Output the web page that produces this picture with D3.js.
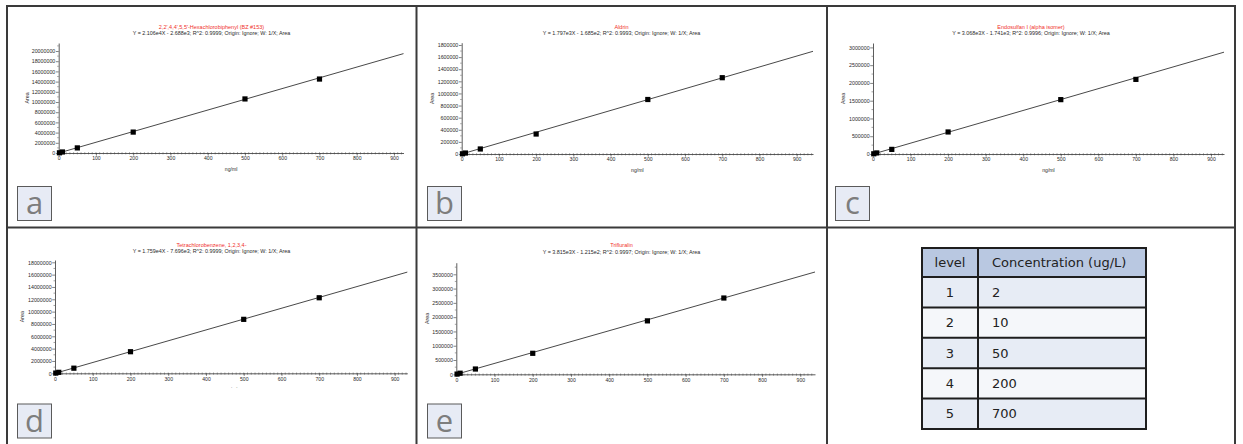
<!DOCTYPE html>
<html><head><meta charset="utf-8">
<script src="https://cdn.jsdelivr.net/npm/d3@7"></script>
<style>
html,body{margin:0;padding:0;background:#fff;}
svg{display:block;}
</style>
</head><body>
<svg id="chart" width="1243" height="444"></svg>
<script>
// ---------------- data ----------------
const compounds = [
  "2,2',4,4',5,5'-Hexachlorobiphenyl (BZ #153)",
  "Aldrin",
  "Endosulfan I (alpha isomer)",
  "Tetrachlorobenzene, 1,2,3,4-",
  "Trifluralin"
];
const equations = [
  "Y = 2.106e4X - 2.688e3; R^2: 0.9999; Origin: Ignore; W: 1/X; Area",
  "Y = 1.797e3X - 1.685e2; R^2: 0.9993; Origin: Ignore; W: 1/X; Area",
  "Y = 3.068e3X - 1.741e3; R^2: 0.9996; Origin: Ignore; W: 1/X; Area",
  "Y = 1.759e4X - 7.696e3; R^2: 0.9999; Origin: Ignore; W: 1/X; Area",
  "Y = 3.815e3X - 1.215e2; R^2: 0.9997; Origin: Ignore; W: 1/X; Area"
];
const slopes = [2.106e4, 1.797e3, 3.068e3, 1.759e4, 3.815e3];
const intercepts = [-2.688e3, -1.685e2, -1.741e3, -7.696e3, -1.215e2];
const calX = [2, 10, 50, 200, 500, 700];
const areaA = [40000, 200000, 1000000, 4100000, 10600000, 14500000];
const areaB = [3500, 16000, 83000, 330000, 900000, 1260000];
const areaC = [6000, 30000, 130000, 620000, 1530000, 2100000];
const areaD = [35000, 160000, 830000, 3500000, 8750000, 12250000];
const areaE = [7500, 38000, 185000, 735000, 1870000, 2670000];
const yTickStep = [2000000, 200000, 500000, 2000000, 500000];
const yTickMax = [20000000, 1800000, 3000000, 18000000, 3500000];
const xTickValues = [0, 100, 200, 300, 400, 500, 600, 700, 800, 900];
const xAxisTitle = "ng/ml";
const yAxisTitle = "Area";
const panelLetters = ["a", "b", "c", "d", "e"];
const tableHeader = ["level", "Concentration (ug/L)"];
const tableLevels = [1, 2, 3, 4, 5];
const tableConc = [2, 10, 50, 200, 700];

const areas = [areaA, areaB, areaC, areaD, areaE];

// ---------------- layout ----------------
const layout = [
  {x0:58.7, x900:394, xEnd:403.5, y0:153, yTop:51, axTop:43, tRed:28.6, tBlk:35.2, areaX:27, cx:211.5, box:[17,186], clip:null},
  {x0:461.7, x900:796.7, xEnd:813, y0:154, yTop:45, axTop:42.7, tRed:28.6, tBlk:35.2, areaX:432, cx:621.5, box:[427,186], clip:null},
  {x0:873, x900:1211, xEnd:1224, y0:154, yTop:47.4, axTop:43, tRed:28.6, tBlk:34.8, areaX:843, cx:1031, box:[835,186], clip:null},
  {x0:55, x900:394.7, xEnd:407.3, y0:373.3, yTop:262.3, axTop:260, tRed:246.8, tBlk:253, areaX:22, cx:211.5, box:[17,403.5], clip:387.5},
  {x0:456.3, x900:800.3, xEnd:815, y0:374.3, yTop:274.3, axTop:262.7, tRed:247.4, tBlk:254, areaX:427, cx:621.5, box:[427,403.5], clip:387.5}
];

const svg = d3.select("#chart");
const FONT = "'Liberation Sans', Arial, sans-serif";
const defs = svg.append("defs");
const TXT = "#2a2a2a";

layout.forEach((L, i) => {
  const g = svg.append("g");
  if (L.clip) {
    defs.append("clipPath").attr("id", "clip" + i)
      .append("rect").attr("x", 0).attr("y", 0).attr("width", 1243).attr("height", L.clip);
    g.attr("clip-path", `url(#clip${i})`);
  }
  const x = d3.scaleLinear().domain([0, 900]).range([L.x0, L.x900]);
  const xMax = x.invert(L.xEnd);
  x.domain([0, xMax]).range([L.x0, L.xEnd]);
  const y = d3.scaleLinear().domain([0, yTickMax[i]]).range([L.y0, L.yTop]);
  const yMax = y.invert(L.axTop);
  y.domain([0, yMax]).range([L.y0, L.axTop]);

  // titles
  g.append("text").attr("x", L.cx).attr("y", L.tRed).attr("text-anchor", "middle")
    .attr("font-family", FONT).attr("font-size", 5.5).attr("fill", "#f0302a").text(compounds[i]);
  g.append("text").attr("x", L.cx).attr("y", L.tBlk).attr("text-anchor", "middle")
    .attr("font-family", FONT).attr("font-size", 5.4).attr("fill", TXT).text(equations[i]);

  // x axis
  const xMinor = d3.range(0, xMax + 0.001, 10);
  const xa = g.append("g").attr("transform", `translate(0,${L.y0})`)
    .call(d3.axisBottom(x).tickValues(xTickValues).tickSize(2.6).tickPadding(1.2).tickSizeOuter(0));
  xa.selectAll("text").attr("font-family", FONT).attr("font-size", 5.1).attr("fill", TXT);
  xa.select(".domain").attr("stroke", "#333").attr("stroke-width", 0.8);
  xa.selectAll(".tick line").attr("stroke", "#333").attr("stroke-width", 0.6);
  g.append("g").selectAll("line").data(xMinor).join("line")
    .attr("x1", d => x(d)).attr("x2", d => x(d))
    .attr("y1", L.y0 - 0.8).attr("y2", L.y0 + 1.4)
    .attr("stroke", "#444").attr("stroke-width", 0.5);

  // y axis
  const yTicks = d3.range(0, yTickMax[i] + 1, yTickStep[i]);
  const ya = g.append("g").attr("transform", `translate(${L.x0},0)`)
    .call(d3.axisLeft(y).tickValues(yTicks).tickFormat(d3.format("d")).tickSize(2.8).tickPadding(0.6).tickSizeOuter(0));
  ya.selectAll("text").attr("font-family", FONT).attr("font-size", 5.3).attr("fill", TXT);
  ya.select(".domain").attr("stroke", "#333").attr("stroke-width", 0.8);
  ya.selectAll(".tick line").attr("stroke", "#333").attr("stroke-width", 0.6);
  const yMinor = d3.range(yTickStep[i] / 2, yMax, yTickStep[i]);
  g.append("g").selectAll("line").data(yMinor).join("line")
    .attr("x1", L.x0 - 1.5).attr("x2", L.x0)
    .attr("y1", d => y(d)).attr("y2", d => y(d))
    .attr("stroke", "#444").attr("stroke-width", 0.5);

  // axis titles
  g.append("text").attr("transform", `translate(${L.areaX},${(L.y0 + L.axTop) / 2}) rotate(-90)`)
    .attr("text-anchor", "middle").attr("dy", "0.35em")
    .attr("font-family", FONT).attr("font-size", 5.3).attr("fill", TXT).text(yAxisTitle);
  g.append("text").attr("x", (L.x0 + L.xEnd) / 2).attr("y", L.y0 + 18)
    .attr("text-anchor", "middle")
    .attr("font-family", FONT).attr("font-size", 5.1).attr("fill", TXT).text(xAxisTitle);

  // regression line
  const fx = [calX[0], xMax];
  g.append("path")
    .datum(fx.map(v => [v, Math.max(0, slopes[i] * v + intercepts[i])]))
    .attr("d", d3.line().x(d => x(d[0])).y(d => y(d[1])))
    .attr("fill", "none").attr("stroke", "#333").attr("stroke-width", 0.9);

  // points
  g.append("g").selectAll("rect").data(calX.map((v, k) => [v, areas[i][k]])).join("rect")
    .attr("x", d => x(d[0]) - 2.6).attr("y", d => y(d[1]) - 2.6)
    .attr("width", 5.2).attr("height", 5.2).attr("fill", "#000");

  // letter box
  svg.append("rect").attr("x", L.box[0] + 0.5).attr("y", L.box[1] + 0.5)
    .attr("width", 34).attr("height", 34)
    .attr("fill", "#e7ebf5").attr("stroke", "#5a5a5a").attr("stroke-width", 1);
  svg.append("text").attr("x", L.box[0] + 17.5).attr("y", L.box[1] + 28)
    .attr("text-anchor", "middle").attr("font-family", "'Open Sans', sans-serif")
    .attr("font-size", 31).attr("fill", "#7d7d7d").text(panelLetters[i]);
});

// ---------------- table ----------------
const T = {x0:922, xDiv:978, x1:1146, top:248, headH:29, rowH:30.4};
const tg = svg.append("g");
const rows = [tableHeader].concat(tableLevels.map((l, k) => [l, tableConc[k]]));
const rowY = k => k === 0 ? T.top : T.top + T.headH + (k - 1) * T.rowH;
const rowH = k => k === 0 ? T.headH : T.rowH;
tg.selectAll("rect.row").data(rows).join("rect").attr("class", "row")
  .attr("x", T.x0).attr("y", (d, k) => rowY(k)).attr("width", T.x1 - T.x0).attr("height", (d, k) => rowH(k))
  .attr("fill", (d, k) => k === 0 ? "#b9c8e1" : (k % 2 === 1 ? "#e7ecf5" : "#f5f7fa"));
tg.selectAll("text.c1").data(rows).join("text").attr("class", "c1")
  .attr("x", (T.x0 + T.xDiv) / 2).attr("y", (d, k) => rowY(k) + rowH(k) / 2)
  .attr("dy", "0.36em").attr("text-anchor", "middle")
  .attr("font-family", "'DejaVu Sans', Verdana, sans-serif").attr("font-size", 13).attr("fill", "#222")
  .text(d => d[0]);
tg.selectAll("text.c2").data(rows).join("text").attr("class", "c2")
  .attr("x", T.xDiv + 14).attr("y", (d, k) => rowY(k) + rowH(k) / 2)
  .attr("dy", "0.36em")
  .attr("font-family", "'DejaVu Sans', Verdana, sans-serif").attr("font-size", 13).attr("fill", "#222")
  .text(d => d[1]);
// grid lines
const hLines = rows.map((d, k) => rowY(k)).concat([rowY(rows.length - 1) + T.rowH]);
tg.selectAll("line.h").data(hLines).join("line").attr("class", "h")
  .attr("x1", T.x0 - 1).attr("x2", T.x1 + 1).attr("y1", d => d).attr("y2", d => d)
  .attr("stroke", "#1e1e1e").attr("stroke-width", 2);
tg.selectAll("line.v").data([T.x0, T.xDiv, T.x1]).join("line").attr("class", "v")
  .attr("x1", d => d).attr("x2", d => d).attr("y1", T.top - 1).attr("y2", hLines[hLines.length - 1] + 1)
  .attr("stroke", "#1e1e1e").attr("stroke-width", 2);

// ---------------- frame ----------------
const F = {l:7, r:1235, t:6, mid:227.5, v1:416.5, v2:827, b:447};
const fg = svg.append("g").attr("stroke", "#3a3a3a").attr("stroke-width", 2).attr("fill", "none");
fg.append("rect").attr("x", F.l).attr("y", F.t).attr("width", F.r - F.l).attr("height", F.b - F.t);
fg.append("line").attr("x1", F.l).attr("x2", F.r).attr("y1", F.mid).attr("y2", F.mid);
fg.append("line").attr("x1", F.v1).attr("x2", F.v1).attr("y1", F.t).attr("y2", F.b);
fg.append("line").attr("x1", F.v2).attr("x2", F.v2).attr("y1", F.t).attr("y2", F.b);
</script>
</body></html>
